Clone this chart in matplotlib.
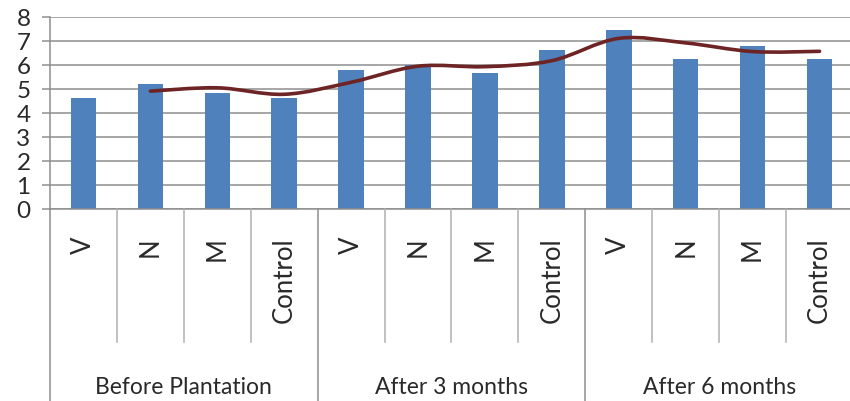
import numpy as np
import matplotlib
matplotlib.use("Agg")
import matplotlib.pyplot as plt
from matplotlib.path import Path
from matplotlib.patches import PathPatch
import matplotlib.transforms as mtransforms

plt.rcParams["font.family"] = ["Lato", "DejaVu Sans"]

# --- data ---
groups = ["Before Plantation", "After 3 months", "After 6 months"]
treatments = ["V", "N", "M", "Control"]
values = [4.62, 5.21, 4.85, 4.62,
          5.80, 6.00, 5.67, 6.64,
          7.47, 6.25, 6.79, 6.24]
# 2-period moving-average trend, starts at the second bar
trend = [4.91, 5.05, 4.78, 5.28, 5.95, 5.93, 6.18, 7.11, 6.92, 6.56, 6.57]

BAR = "#4F81BD"
TREND = "#6E2424"
GRID = "#8e8e8e"
TXT = "#2a2a2a"

n = len(values)
x = np.arange(n)

fig = plt.figure(figsize=(8.5, 4.02), dpi=100)
ax = fig.add_axes([50 / 850, 1 - 210 / 402, 803 / 850, 192 / 402])

ax.bar(x, values, width=0.38, color=BAR, zorder=2)

# smoothed trend line (Catmull-Rom as cubic Bezier segments)
tx = x[1:].astype(float)
ty = np.array(trend)
pts = np.column_stack([tx, ty])
verts = [pts[0]]
codes = [Path.MOVETO]
for i in range(len(pts) - 1):
    p0 = pts[i - 1] if i > 0 else pts[i]
    p1, p2 = pts[i], pts[i + 1]
    p3 = pts[i + 2] if i + 2 < len(pts) else pts[i + 1]
    c1 = p1 + (p2 - p0) / 6.0
    c2 = p2 - (p3 - p1) / 6.0
    verts += [c1, c2, p2]
    codes += [Path.CURVE4] * 3
ax.add_patch(PathPatch(Path(verts, codes), fill=False, edgecolor=TREND,
                       lw=2.6, zorder=3, capstyle="round", joinstyle="round"))

ax.set_xlim(-0.5, n - 0.5)
ax.set_ylim(0, 8)
ax.set_yticks(range(0, 9))
ax.yaxis.grid(True, color=GRID, lw=1.1)
ax.set_axisbelow(True)
for s in ["top", "right", "bottom"]:
    ax.spines[s].set_visible(False)
ax.spines["left"].set_color(GRID)
ax.spines["left"].set_linewidth(1.1)
ax.tick_params(axis="y", length=6, width=1.1, color=GRID, labelsize=17.5,
               labelcolor=TXT, pad=8)
ax.set_xticks([])

# two-level category axis below the plot
trans = mtransforms.blended_transform_factory(ax.transData, ax.transAxes)
ax.plot([-0.5, n - 0.5], [0, 0], color=GRID, lw=1.1, transform=trans, clip_on=False)
for b in np.arange(-0.5, n, 1.0):
    long_line = abs(((b + 0.5) % len(treatments))) < 1e-9
    y_end = -1.0 if long_line else -0.693
    ax.plot([b, b], [0, y_end], color=GRID if long_line else "#b0b0b0",
            lw=1.1, transform=trans, clip_on=False)

for i in range(n):
    ax.text(x[i], -0.14, treatments[i % len(treatments)], rotation=90,
            ha="center", va="top", fontsize=18.5, color=TXT,
            transform=trans, clip_on=False)

for g, name in enumerate(groups):
    cx = g * len(treatments) + (len(treatments) - 1) / 2
    ax.text(cx, -0.925, name, ha="center", va="center", fontsize=16.5,
            color=TXT, transform=trans, clip_on=False)

fig.savefig("out.png", dpi=100)
